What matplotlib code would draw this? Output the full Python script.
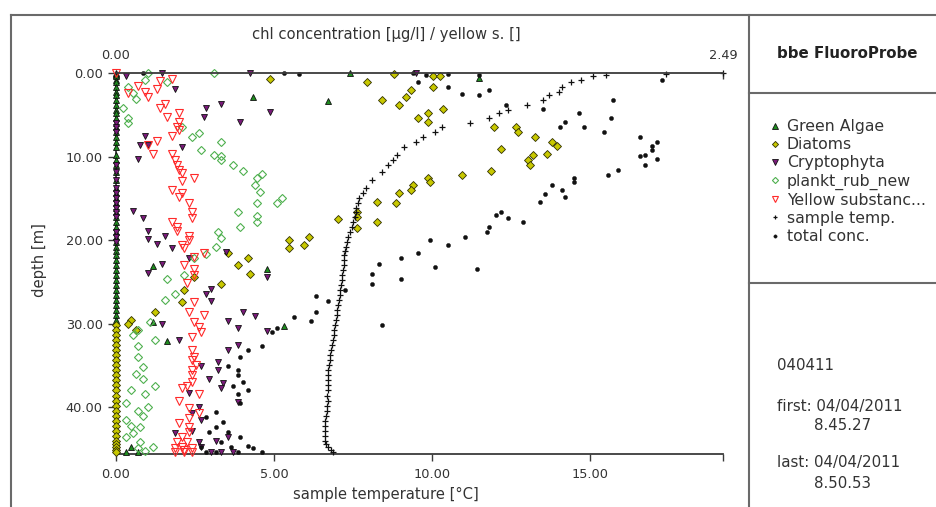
import numpy as np
import matplotlib
matplotlib.use("Agg")
import matplotlib.pyplot as plt
from matplotlib.lines import Line2D

plt.rcParams['font.family'] = ['DejaVu Sans']

# ---- data ----
# sample temperature [degC] vs depth [m] (bottom axis)
temp_depth = [0.0, 0.1, 0.2, 0.4, 0.8, 1.1, 1.7, 2.3, 2.6, 3.2, 3.8, 4.4, 4.8, 5.4,
              6.0, 6.5, 7.1, 7.7, 8.3, 8.9, 9.8, 10.4, 11.0, 11.9, 12.8, 13.8, 14.4,
              15.0, 15.6, 16.2, 16.6, 17.2, 17.8, 18.4, 19.0, 19.6, 20.2, 20.8, 21.3,
              21.8, 22.4, 23.0, 23.6, 24.2, 24.8, 25.4, 26.0, 26.6, 27.2, 27.8, 28.4,
              29.0, 29.6, 30.2, 30.8, 31.4, 32.0, 32.6, 33.2, 33.8, 34.4, 35.0, 35.6,
              36.2, 36.8, 37.4, 38.0, 38.6, 39.2, 39.8, 40.4, 41.0, 41.6, 42.2, 42.8,
              43.4, 44.0, 44.4, 44.8, 45.1, 45.4]
temp = [19.2, 17.4, 15.5, 15.1, 14.7, 14.4, 14.1, 14.0, 13.7, 13.5, 13.0, 12.4, 12.1, 11.8,
        11.2, 10.3, 10.1, 9.7, 9.5, 9.1, 8.9, 8.75, 8.6, 8.4, 8.1, 7.9, 7.8,
        7.7, 7.65, 7.6, 7.6, 7.55, 7.5, 7.45, 7.4, 7.35, 7.3, 7.28, 7.25,
        7.2, 7.2, 7.22, 7.18, 7.15, 7.15, 7.12, 7.1, 7.08, 7.05, 7.02, 7.0,
        6.98, 6.95, 6.93, 6.9, 6.88, 6.85, 6.83, 6.8, 6.78, 6.77, 6.75, 6.72,
        6.7, 6.72, 6.7, 6.7, 6.68, 6.7, 6.68, 6.66, 6.65, 6.62, 6.6, 6.6,
        6.6, 6.62, 6.65, 6.72, 6.8, 6.85]

# concentrations [ug/l] vs depth [m] (top axis)
green_depth = [0.0, 0.6, 2.9, 3.4, 23.1, 23.5, 29.8, 32.1, 30.3, 45.4, 45.4, 44.8]
green_conc = [0.96, 1.49, 0.56, 0.87, 0.15, 0.62, 0.15, 0.21, 0.69, 0.04, 0.09, 0.06]

diatom_depth = [0.7, 20.0, 19.6, 21.0, 20.6, 21.6, 22.2, 0.1, 0.4, 0.3, 1.1, 2.0, 2.9, 1.7,
                3.2, 3.8, 4.3, 4.8, 5.4, 5.9, 6.5, 6.5, 7.1, 9.1, 10.4, 11.7, 12.2, 12.6,
                13.1, 13.4, 14.0, 14.4, 15.6, 15.4, 16.6, 17.2, 17.8, 18.6, 17.5, 7.7,
                8.3, 8.7, 9.7, 9.8, 11.0, 23.0, 24.0, 25.3, 24.4, 26.0, 27.4, 28.6,
                29.6, 30.0, 30.7]
diatom_conc = [0.63, 0.71, 0.79, 0.71, 0.77, 0.46, 0.54, 1.14, 1.30, 1.33, 1.03, 1.21, 1.19, 1.30,
               1.09, 1.16, 1.34, 1.28, 1.24, 1.28, 1.55, 1.64, 1.65, 1.58, 1.69, 1.54, 1.42, 1.28,
               1.29, 1.22, 1.21, 1.16, 1.15, 1.07, 0.99, 0.99, 1.07, 0.99, 0.91, 1.72,
               1.79, 1.81, 1.77, 1.71, 1.70, 0.50, 0.55, 0.43, 0.32, 0.28, 0.27, 0.16,
               0.06, 0.05, 0.08]

crypto_depth = [0.4, 0.0, 0.0, 0.0, 1.9, 4.2, 3.7, 5.3, 5.9, 4.7, 7.5, 8.6, 8.6, 8.9, 10.3,
                16.5, 17.4, 18.9, 19.9, 19.5, 20.5, 21.0, 22.2, 21.4, 23.9, 22.9, 26.4,
                25.8, 27.3, 24.4, 28.6, 29.1, 29.7, 30.5, 30.0, 32.0, 30.9, 33.2, 34.6,
                32.6, 35.6, 36.6, 37.1, 37.7, 35.1, 39.4, 38.3, 40.0, 40.7, 41.5, 43.1,
                42.8, 44.2, 44.0, 43.6, 45.4, 44.8, 45.4, 45.4]
crypto_conc = [0.04, 0.19, 0.55, 1.23, 0.24, 0.37, 0.43, 0.36, 0.51, 0.63, 0.12, 0.10, 0.13, 0.27, 0.09,
               0.07, 0.11, 0.13, 0.13, 0.20, 0.17, 0.23, 0.30, 0.45, 0.13, 0.19, 0.37,
               0.39, 0.39, 0.62, 0.52, 0.57, 0.46, 0.50, 0.19, 0.26, 0.62, 0.46, 0.42,
               0.50, 0.42, 0.38, 0.44, 0.43, 0.35, 0.50, 0.30, 0.34, 0.31, 0.35, 0.24,
               0.31, 0.34, 0.41, 0.46, 0.48, 0.35, 0.39, 0.43]

plankt_depth = [0.0, 0.0, 0.8, 1.1, 1.7, 2.4, 3.1, 4.2, 5.4, 6.0, 6.5, 7.7, 7.2, 8.3, 9.2,
                9.8, 9.9, 10.4, 11.0, 11.7, 12.1, 12.6, 13.4, 14.3, 15.5, 15.5, 15.0,
                16.6, 17.1, 17.8, 18.4, 19.0, 19.8, 20.8, 21.7, 22.2, 24.2, 26.4, 24.6,
                27.2, 29.8, 32.0, 30.7, 31.4, 32.7, 34.0, 35.2, 36.0, 36.6, 37.5, 38.0,
                38.4, 39.5, 40.4, 40.0, 41.0, 41.5, 42.2, 42.4, 43.1, 43.6, 44.2, 44.8,
                44.9, 45.2]
plankt_conc = [0.13, 0.40, 0.12, 0.21, 0.05, 0.07, 0.08, 0.03, 0.05, 0.05, 0.27, 0.31, 0.34, 0.43, 0.35,
               0.40, 0.43, 0.43, 0.48, 0.52, 0.60, 0.58, 0.57, 0.59, 0.58, 0.66, 0.68,
               0.50, 0.58, 0.58, 0.51, 0.42, 0.43, 0.41, 0.37, 0.32, 0.28, 0.24, 0.21,
               0.20, 0.14, 0.16, 0.09, 0.07, 0.09, 0.09, 0.11, 0.08, 0.11, 0.16, 0.06,
               0.12, 0.04, 0.09, 0.13, 0.11, 0.04, 0.06, 0.10, 0.07, 0.04, 0.10, 0.15,
               0.09, 0.12]

yellow_depth = [0.0, 1.0, 0.7, 1.6, 2.3, 2.9, 2.4, 1.9, 4.2, 3.7, 4.8, 5.3, 5.9, 6.5, 6.8,
                7.5, 8.1, 8.6, 9.7, 9.7, 10.4, 11.0, 11.6, 12.0, 12.6, 12.9, 14.0, 14.4,
                14.8, 15.5, 16.6, 17.4, 17.8, 18.4, 18.9, 19.5, 20.0, 20.6, 21.0, 21.6,
                22.0, 23.0, 23.5, 24.2, 25.1, 27.4, 28.6, 29.0, 29.8, 30.4, 31.0, 31.6,
                33.2, 34.0, 34.4, 35.0, 35.6, 36.2, 37.0, 37.7, 37.5, 38.4, 39.2, 40.1,
                40.7, 41.3, 41.9, 42.4, 43.0, 43.6, 44.2, 44.2, 44.9, 44.8, 45.1, 44.9,
                45.4, 45.4, 45.4]
yellow_conc = [0.0, 0.18, 0.23, 0.09, 0.12, 0.13, 0.05, 0.17, 0.18, 0.20, 0.26, 0.21, 0.26, 0.25, 0.26,
               0.23, 0.17, 0.13, 0.15, 0.23, 0.24, 0.25, 0.26, 0.27, 0.32, 0.27, 0.23, 0.27,
               0.26, 0.30, 0.31, 0.31, 0.23, 0.25, 0.25, 0.30, 0.30, 0.27, 0.28, 0.36,
               0.32, 0.28, 0.32, 0.32, 0.29, 0.32, 0.30, 0.36, 0.32, 0.34, 0.35, 0.31,
               0.31, 0.32, 0.31, 0.33, 0.31, 0.31, 0.31, 0.27, 0.29, 0.34, 0.26, 0.30,
               0.34, 0.30, 0.26, 0.30, 0.30, 0.27, 0.25, 0.29, 0.24, 0.27, 0.28, 0.31,
               0.24, 0.28, 0.31]

total_depth = [0.0, 0.0, 0.1, 0.0, 0.2, 0.1, 0.2, 1.1, 1.7, 2.5, 2.6, 2.0, 3.8, 0.8, 3.2,
               4.3, 4.8, 5.4, 5.9, 6.5, 6.5, 7.1, 7.7, 8.3, 8.7, 9.2, 9.8, 9.9, 10.3,
               11.0, 11.6, 12.2, 12.6, 13.0, 13.4, 14.0, 14.5, 14.9, 15.4, 16.6, 17.0,
               17.4, 17.8, 18.4, 19.0, 19.6, 20.0, 20.6, 21.6, 22.2, 22.8, 23.2, 23.5,
               24.0, 24.6, 25.3, 26.0, 26.7, 27.3, 28.6, 29.2, 29.7, 30.2, 30.5, 31.0,
               32.7, 33.2, 34.0, 35.1, 35.6, 36.2, 37.0, 37.5, 38.0, 38.4, 39.5, 40.6,
               41.2, 41.8, 42.4, 43.0, 43.0, 43.6, 44.2, 44.6, 44.8, 44.8, 44.9, 45.4,
               45.4, 45.4, 45.4]
total_conc = [0.11, 0.69, 0.75, 1.22, 1.27, 1.36, 1.49, 1.24, 1.36, 1.42, 1.49, 1.53, 1.60, 2.24, 2.04,
              1.75, 1.90, 2.03, 1.84, 1.82, 1.92, 2.00, 2.15, 2.22, 2.20, 2.20, 2.17, 2.15, 2.22,
              2.17, 2.06, 2.02, 1.88, 1.88, 1.79, 1.83, 1.76, 1.84, 1.74, 1.58, 1.56,
              1.61, 1.67, 1.53, 1.52, 1.43, 1.29, 1.36, 1.24, 1.17, 1.08, 1.31, 1.48,
              1.05, 1.17, 1.05, 0.94, 0.82, 0.87, 0.82, 0.73, 0.80, 1.09, 0.66, 0.64,
              0.60, 0.54, 0.51, 0.46, 0.50, 0.50, 0.52, 0.48, 0.54, 0.50, 0.51, 0.41,
              0.37, 0.44, 0.41, 0.38, 0.46, 0.51, 0.43, 0.54, 0.47, 0.35, 0.56, 0.60,
              0.50, 0.41, 0.37]

# depth ranges where a group sits at 0 ug/l (column on the left axis)
green_zero_range = (0.0, 30.0)
crypto_zero_ranges = [(6.0, 7.2), (10.5, 17.5), (19.0, 20.3)]
diatom_zero_range = (30.0, 45.6)

labels = ["Green Algae", "Diatoms", "Cryptophyta", "plankt_rub_new",
          "Yellow substanc...", "sample temp.", "total conc."]
info_lines = ["040411", "first: 04/04/2011", "8.45.27", "last: 04/04/2011", "8.50.53"]

TEMP_MAX = 19.2
CONC_MAX = 2.49
DEPTH_MAX = 45.6

# ---- figure ----
W, H = 937, 507
fig = plt.figure(figsize=(W / 100, H / 100), dpi=100)
fig.patch.set_facecolor('white')

def fx(px):
    return px / W

def fy(py):
    return 1 - py / H

ax = fig.add_axes([fx(116), fy(454), fx(723) - fx(116), fy(73) - fy(454)])
ax2 = ax.twiny()

styles = {
    "green": dict(marker='^', ms=5, mfc='#1e8c1e', mec='#101010', mew=0.6, ls=''),
    "diatom": dict(marker='D', ms=3.9, mfc='#c8c800', mec='#303000', mew=0.6, ls=''),
    "crypto": dict(marker='v', ms=5, mfc='#7a1a7a', mec='#101010', mew=0.6, ls=''),
    "plankt": dict(marker='D', ms=3.9, mfc='none', mec='#4fb04f', mew=0.8, ls=''),
    "yellow": dict(marker='v', ms=5.5, mfc='none', mec='#ff2a2a', mew=0.8, ls=''),
    "temp": dict(marker='+', ms=4, mec='#111111', mew=0.9, ls=''),
    "total": dict(marker='o', ms=3, mfc='#111111', mec='#111111', mew=0.3, ls=''),
}

td = np.array(temp_depth)

# zero columns at the left axis
gz = td[(td >= green_zero_range[0]) & (td <= green_zero_range[1])]
ax2.plot(np.zeros(len(gz)), gz, **styles["green"])
ax2.plot(green_conc, green_depth, **styles["green"])

dz = td[(td >= diatom_zero_range[0]) & (td <= diatom_zero_range[1])]
ax2.plot(np.zeros(len(dz)), dz, **styles["diatom"])
ax2.plot(diatom_conc, diatom_depth, **styles["diatom"])

for lo, hi in crypto_zero_ranges:
    cz = td[(td >= lo) & (td <= hi)]
    ax2.plot(np.zeros(len(cz)), cz, **styles["crypto"])
ax2.plot(crypto_conc, crypto_depth, **styles["crypto"])

ax2.plot(plankt_conc, plankt_depth, **styles["plankt"])
ax2.plot(yellow_conc, yellow_depth, **styles["yellow"])
ax2.plot(np.array(temp) * CONC_MAX / TEMP_MAX, temp_depth, **styles["temp"])
ax2.plot(total_conc, total_depth, **styles["total"])
for a in (ax, ax2):
    for line in a.get_lines():
        line.set_clip_on(False)

# axes
spine_c = '#3a3a3a'
text_c = '#333333'
ax.set_xlim(0, TEMP_MAX)
ax.set_ylim(DEPTH_MAX, 0)
ax2.set_xlim(0, CONC_MAX)
ax2.set_ylim(DEPTH_MAX, 0)

ax.set_xticks([0, 5, 10, 15, TEMP_MAX])
ax.set_xticklabels(['0.00', '5.00', '10.00', '15.00', ''])
ax.set_yticks([0, 10, 20, 30, 40])
ax.set_yticklabels(['0.00', '10.00', '20.00', '30.00', '40.00'])
ax2.set_xticks([0, CONC_MAX])
ax2.set_xticklabels(['0.00', '2.49'])

ax.tick_params(axis='x', direction='out', length=5, width=1, color=spine_c,
               labelsize=9.3, labelcolor=text_c, pad=5)
ax.tick_params(axis='y', direction='out', length=5.5, width=1, color=spine_c,
               labelsize=9.3, labelcolor=text_c, pad=4)
ax2.tick_params(axis='x', direction='in', length=4, width=1, color=spine_c,
                labelsize=9.3, labelcolor=text_c, pad=8)

for s in ['top', 'right']:
    ax.spines[s].set_visible(False)
for s in ['bottom', 'left', 'right']:
    ax2.spines[s].set_visible(False)
for s in ['left', 'bottom']:
    ax.spines[s].set_color(spine_c)
    ax.spines[s].set_linewidth(1.3)
ax2.spines['top'].set_color(spine_c)
ax2.spines['top'].set_linewidth(1.3)

fig.text(fx(386), fy(35), "chl concentration [µg/l] / yellow s. []",
         ha='center', va='center', fontsize=10.6, color=text_c)
fig.text(fx(386), fy(494), "sample temperature [°C]",
         ha='center', va='center', fontsize=10.6, color=text_c)
fig.text(fx(40), fy(260), "depth [m]", rotation=90,
         ha='center', va='center', fontsize=10.6, color=text_c)

# frame of the report
frame_c = '#6a6a6a'
def fline(xs, ys):
    fig.add_artist(Line2D([fx(x) for x in xs], [fy(y) for y in ys],
                          transform=fig.transFigure, color=frame_c, lw=1.5))

fline([11, W], [15, 15])
fline([11, 11], [15, H])
fline([749, 749], [15, H])
fline([749, W], [93, 93])
fline([749, W], [283, 283])

fig.text(fx(777), fy(53), "bbe FluoroProbe", ha='left', va='center',
         fontsize=10.8, fontweight='bold', color='#222222')

# legend
handles = [Line2D([], [], **dict(styles[k], ms=styles[k]['ms'] * 0.8))
           for k in ["green", "diatom", "crypto", "plankt", "yellow", "temp", "total"]]
fig.legend(handles, labels, loc='upper left', bbox_to_anchor=(fx(771), fy(119)),
           frameon=False, fontsize=11.3, handlelength=0.5, handletextpad=0.5,
           labelspacing=0.2, borderpad=0, borderaxespad=0, labelcolor=text_c)

# info block
info_pos = [(777, 366), (777, 406), (814, 425), (777, 463), (814, 484)]
for txt, (x, y) in zip(info_lines, info_pos):
    fig.text(fx(x), fy(y), txt, ha='left', va='center', fontsize=10.8, color=text_c)

fig.savefig("out.png", dpi=100)
